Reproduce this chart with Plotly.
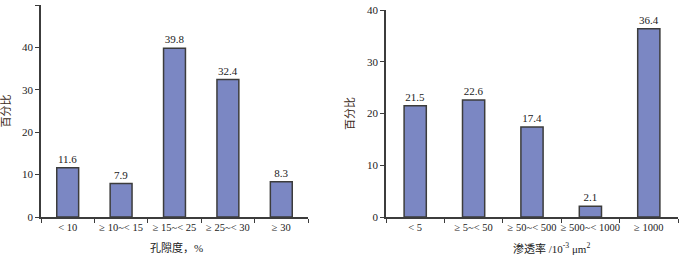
import plotly.graph_objects as go

por_cats = ["< 10", "≥ 10~< 15", "≥ 15~< 25", "≥ 25~< 30", "≥ 30"]
por_vals = [11.6, 7.9, 39.8, 32.4, 8.3]
perm_cats = ["< 5", "≥ 5~< 50", "≥ 50~< 500", "≥ 500~< 1000", "≥ 1000"]
perm_vals = [21.5, 22.6, 17.4, 2.1, 36.4]
left_ticks = [0, 10, 20, 30, 40, 50]
right_ticks = [0, 10, 20, 30, 40]

W, H = 681, 257
FONT = "Liberation Serif, Noto Sans CJK SC, serif"
BAR = "#7b87c3"
EDGE = "#3c3c3c"
AX = "#3c3c3c"

fig = go.Figure()
fig.add_trace(go.Bar(x=por_cats, y=por_vals, xaxis="x", yaxis="y", width=0.41,
                     marker=dict(color=BAR, line=dict(color=EDGE, width=1.5)),
                     text=[f"{v:.1f}" for v in por_vals], textposition="outside",
                     textfont=dict(family=FONT, size=11, color="#222"), cliponaxis=False))
fig.add_trace(go.Bar(x=perm_cats, y=perm_vals, xaxis="x2", yaxis="y2", width=0.38,
                     marker=dict(color=BAR, line=dict(color=EDGE, width=1.5)),
                     text=[f"{v:.1f}" for v in perm_vals], textposition="outside",
                     textfont=dict(family=FONT, size=11, color="#222"), cliponaxis=False))

top, bot = 5, 40
ph = H - top - bot

def xax(d0, d1, anchor):
    return dict(domain=[d0 / W, d1 / W], anchor=anchor, showline=True, linecolor=AX, linewidth=1.5,
                ticks="outside", ticklen=4, tickcolor=AX, tickson="boundaries", tickangle=0,
                tickfont=dict(family=FONT, size=10.5, color="#222"), showgrid=False,
                automargin=False, fixedrange=True)

def yax(rng, ticks, dtop, anchor):
    return dict(domain=[0, (H - bot - dtop) / ph], anchor=anchor, range=rng, tickvals=ticks,
                showline=True, linecolor=AX, linewidth=1.5, ticks="outside", ticklen=4, tickcolor=AX,
                tickfont=dict(family=FONT, size=11, color="#222"), showgrid=False, zeroline=False,
                title=dict(text="百分比", font=dict(family=FONT, size=11, color="#3a2a20"), standoff=10),
                automargin=False, fixedrange=True)

ty = -(248 - (H - bot)) / ph
fig.update_layout(
    width=W, height=H, margin=dict(l=0, r=0, t=top, b=bot),
    paper_bgcolor="white", plot_bgcolor="white", showlegend=False, bargap=0.5,
    xaxis=xax(41, 308, "y"),
    yaxis=yax([0, 50], left_ticks, 5, "x"),
    xaxis2=xax(386, 678, "y2"),
    yaxis2=yax([0, 40], right_ticks, 10, "x2"),
    annotations=[
        dict(text="孔隙度，%", xref="paper", yref="paper", x=176 / W, y=ty, xanchor="center",
             yanchor="middle", showarrow=False, font=dict(family=FONT, size=11, color="#222")),
        dict(text="渗透率 /10<sup>-3</sup> μm<sup>2</sup>", xref="paper", yref="paper", x=551 / W, y=ty,
             xanchor="center", yanchor="middle", showarrow=False,
             font=dict(family=FONT, size=11, color="#222")),
    ],
)
fig.write_html("out.html")
